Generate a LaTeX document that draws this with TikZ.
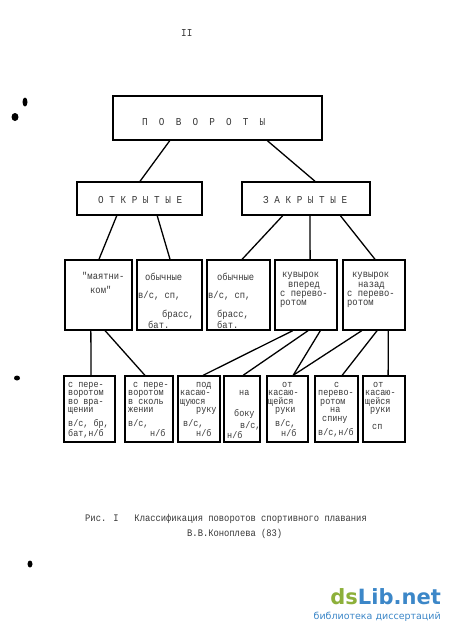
\documentclass[tikz,border=0pt]{standalone}
\usepackage{fontspec}
\usetikzlibrary{calc}
\newfontfamily\tw{Liberation Mono}[FakeStretch=0.88]
\newfontfamily\wm{DejaVu Sans}
\definecolor{wmgreen}{HTML}{8DB03A}
\definecolor{wmblue}{HTML}{3C87C8}
\tikzset{
 tw/.style={font=\tw\fontsize{10}{10}\selectfont, text=black!78, inner sep=0pt},
 sm/.style={font=\tw\fontsize{9.6}{9.6}\selectfont, text=black!78, inner sep=0pt},
 hd/.style={font=\tw\fontsize{10.6}{10.6}\selectfont, text=black!78, inner sep=0pt},
 box/.style={draw=black, line width=1.4pt, inner sep=0pt},
 conn/.style={draw=black, line width=1.3pt},
 blob/.style={fill=black},
}
\newcommand\bx[5]{\node[box, minimum width={(#4-#2)*1pt}, minimum height={(#5-#3)*1pt}] (#1) at ({(#2+#4)/2},{(#3+#5)/2}) {};}
\newcommand\tline[5][tw]{\node[#1, anchor=base west] (#2) at (#3,#4) {#5};}
\newcommand\cn[4]{\draw[conn] ($(#1.south west)!#2!(#1.south east)$) -- ($(#3.north west)!#4!(#3.north east)$);}
\begin{document}
\begin{tikzpicture}[x=1pt,y=-1pt]
\fill[white] (0,0) rectangle (450,633);
\useasboundingbox (0,0) rectangle (450,633);

% page number
\tline[hd]{pg}{181}{36}{II}

% boxes
\bx{top}{113}{96}{322}{140}
\bx{otk}{77}{182}{202}{215}
\bx{zak}{242}{182}{370}{215}
\bx{m}{65}{260}{132}{330}
\bx{oa}{137}{260}{202}{330}
\bx{ob}{207}{260}{270}{330}
\bx{kv}{275}{260}{337}{330}
\bx{kn}{343}{260}{405}{330}
\bx{b1}{64}{376}{115}{442}
\bx{b2}{125}{376}{173}{442}
\bx{b3}{178}{376}{220}{442}
\bx{b4}{224}{376}{260}{442}
\bx{b5}{267}{376}{308}{442}
\bx{b6}{315}{376}{358}{442}
\bx{b7}{363}{376}{405}{442}

% headings
\tline[hd]{h0}{142}{125}{П\ \ О\ \ В\ \ О\ \ Р\ \ О\ \ Т\ \ Ы}
\tline[hd]{h1}{98}{203}{О Т К Р Ы Т Ы Е}
\tline[hd]{h2}{263}{203}{З А К Р Ы Т Ы Е}

% level 3 texts
\tline{ma}{82}{279}{"маятни-}
\tline{mb}{90}{293}{ком"}
\tline{oaa}{145}{280}{обычные}
\tline{oab}{138}{298}{в/с, сп,}
\tline{oac}{162}{317}{брасс,}
\tline{oad}{148}{328}{бат.}
\tline{oba}{217}{280}{обычные}
\tline{obb}{208}{298}{в/с, сп,}
\tline{obc}{217}{317}{брасс,}
\tline{obd}{217}{328}{бат.}
\tline{kva}{282}{277}{кувырок}
\tline{kvb}{288}{287}{вперед}
\tline{kvc}{280}{296}{с перево-}
\tline{kvd}{280}{305}{ротом}
\tline{kna}{352}{277}{кувырок}
\tline{knb}{358}{287}{назад}
\tline{knc}{347}{296}{с перево-}
\tline{knd}{347}{305}{ротом}

% level 4 texts
\tline[sm]{b1a}{68}{387}{с пере-}
\tline[sm]{b1b}{68}{395.5}{воротом}
\tline[sm]{b1c}{68}{404}{во вра-}
\tline[sm]{b1d}{68}{412.5}{щении}
\tline[sm]{b1e}{68}{426}{в/с, бр,}
\tline[sm]{b1f}{68}{436}{бат,н/б}

\tline[sm]{b2a}{133}{387}{с пере-}
\tline[sm]{b2b}{128}{395.5}{воротом}
\tline[sm]{b2c}{128}{404}{в сколь}
\tline[sm]{b2d}{128}{412.5}{жении}
\tline[sm]{b2e}{128}{426}{в/с,}
\tline[sm]{b2f}{150}{436}{н/б}

\tline[sm]{b3a}{196}{387}{под}
\tline[sm]{b3b}{180}{395.5}{касаю-}
\tline[sm]{b3c}{180}{404}{щуюся}
\tline[sm]{b3d}{196}{412.5}{руку}
\tline[sm]{b3e}{183}{426}{в/с,}
\tline[sm]{b3f}{196}{436}{н/б}

\tline[sm]{b4a}{239}{395}{на}
\tline[sm]{b4b}{234}{416}{боку}
\tline[sm]{b4c}{240}{428}{в/с,}
\tline[sm]{b4d}{227}{438}{н/б}

\tline[sm]{b5a}{282}{387}{от}
\tline[sm]{b5b}{268}{395.5}{касаю-}
\tline[sm]{b5c}{268}{404}{щейся}
\tline[sm]{b5d}{275}{412.5}{руки}
\tline[sm]{b5e}{275}{426}{в/с,}
\tline[sm]{b5f}{281}{436}{н/б}

\tline[sm]{b6a}{334}{387}{с}
\tline[sm]{b6b}{318}{395.5}{перево-}
\tline[sm]{b6c}{320}{404}{ротом}
\tline[sm]{b6d}{330}{412.5}{на}
\tline[sm]{b6e}{322}{421}{спину}
\tline[sm]{b6f}{318}{435}{в/с,н/б}

\tline[sm]{b7a}{373}{387}{от}
\tline[sm]{b7b}{365}{395.5}{касаю-}
\tline[sm]{b7c}{365}{404}{щейся}
\tline[sm]{b7d}{370}{412.5}{руки}
\tline[sm]{b7e}{372}{429}{сп}

% connectors
\cn{top}{0.273}{otk}{0.504}
\cn{top}{0.737}{zak}{0.57}
\cn{otk}{0.32}{m}{0.507}
\cn{otk}{0.64}{oa}{0.508}
\cn{zak}{0.32}{ob}{0.556}
\cn{zak}{0.531}{kv}{0.565}
\cn{zak}{0.766}{kn}{0.516}
\cn{m}{0.388}{b1}{0.53}
\cn{m}{0.597}{b2}{0.417}
\cn{kv}{0.29}{b3}{0.595}
\cn{kv}{0.532}{b4}{0.53}
\cn{kv}{0.726}{b5}{0.634}
\cn{kn}{0.306}{b5}{0.634}
\cn{kn}{0.548}{b6}{0.628}
\cn{kn}{0.726}{b7}{0.595}

% caption
\tline{cap1}{85}{521}{Рис. I\ \ \ Классификация поворотов спортивного плавания}
\tline{cap2}{187}{536}{В.В.Коноплева (83)}

% scan specks
\fill[blob] (25,102) ellipse (2.5 and 4.5);
\fill[blob] (15,117) ellipse (3.5 and 4);
\fill[blob] (17,378) ellipse (3 and 2.5);
\fill[blob] (30,564) ellipse (2.5 and 3.5);

% watermark
\node[font=\wm\bfseries\fontsize{21}{21}\selectfont, anchor=base east, inner sep=0pt] (wm1) at (441,604) {\textcolor{wmgreen}{ds}\textcolor{wmblue}{Lib.net}};
\node[font=\wm\fontsize{9.5}{9.5}\selectfont, text=wmblue, anchor=base east, inner sep=0pt] (wm2) at (441,619) {библиотека диссертаций};
\end{tikzpicture}
\end{document}
